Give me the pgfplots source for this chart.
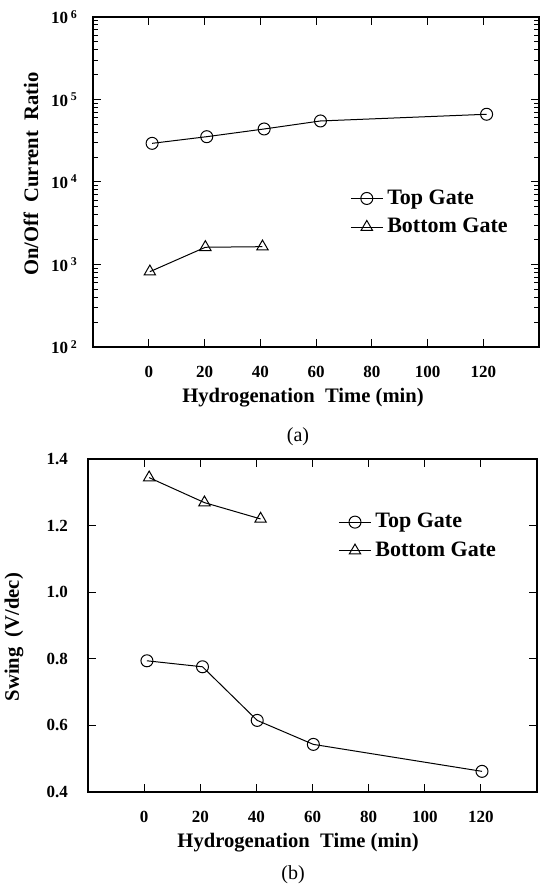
\documentclass[border=0pt]{standalone}
\usepackage{fontspec}
\setmainfont{Liberation Serif}
\usepackage{pgfplots}
\pgfplotsset{compat=1.18}
\pgfplotsset{
  legend image code/.code={\draw[mark repeat=2,mark phase=2,#1] plot coordinates {(0pt,0pt) (8pt,0pt) (16pt,0pt)};},
  common/.style={
    scale only axis,
    axis line style={line width=0.6pt, black},
    xmin=-20, xmax=140,
    xtick={0,20,40,60,80,100,120},
    tick align=inside,
    major tick length=4pt, minor tick length=2.5pt,
    tick style={line width=0.5pt, black},
    xtick pos=both, ytick pos=both,
    tick label style={font=\bfseries\fontsize{8.5}{10}\selectfont},
    xticklabel style={yshift=-6pt},
    label style={font=\bfseries\fontsize{10.3}{12}\selectfont},
    /pgf/number format/assume math mode=true,
    legend style={draw=none, fill=none, inner sep=0pt,
      font=\bfseries\fontsize{11}{13}\selectfont, row sep=1.5pt,
      cells={anchor=west}},
    legend cell align=left,
  },
  tg/.style={black, line width=0.5pt, mark=o, mark size=3pt, mark options={fill=white, line width=0.5pt}},
  bg/.style={black, line width=0.5pt, mark=triangle, mark size=3.3pt, mark options={fill=white, line width=0.5pt}},
}
\begin{document}
\begin{tikzpicture}
\useasboundingbox (0pt,0pt) rectangle (272pt,443.5pt);
% (a)
\begin{axis}[common,
  at={(46.5pt,270pt)}, anchor=south west,
  width=223pt, height=165pt,
  ymode=log, ymin=1e2, ymax=1e6,
  ytick={1e2,1e3,1e4,1e5,1e6},
  yticklabels={10\,\textsuperscript{2},10\,\textsuperscript{3},10\,\textsuperscript{4},10\,\textsuperscript{5},10\,\textsuperscript{6}},
  yticklabel style={xshift=-4pt},
  xlabel={Hydrogenation\ \ Time (min)},
  ylabel={On/Off\ \ Current\ \ Ratio},
  xlabel style={at={(axis description cs:0.471,-0.152)}, anchor=center},
  ylabel style={at={(axis description cs:-0.139,0.524)}, anchor=center},
  legend style={at={(axis description cs:0.576,0.49)}, anchor=north west},
]
\addplot[tg] coordinates {(1.2,29400) (20.8,35400) (41.4,43900) (61.6,54900) (121.2,66200)};
\addlegendentry{Top Gate}
\addplot[bg] coordinates {(0.4,818) (20.3,1617) (40.8,1644)};
\addlegendentry{Bottom Gate}
\end{axis}
% (b)
\begin{axis}[common,
  at={(44pt,47.5pt)}, anchor=south west,
  width=224.5pt, height=166.5pt,
  ymin=0.4, ymax=1.4,
  ytick={0.4,0.6,0.8,1.0,1.2,1.4},
  yticklabel style={xshift=-6.5pt, /pgf/number format/.cd, fixed, fixed zerofill, precision=1},
  xlabel={Hydrogenation\ \ Time (min)},
  ylabel={Swing\ \ (V/dec)},
  xlabel style={at={(axis description cs:0.468,-0.153)}, anchor=center},
  ylabel style={at={(axis description cs:-0.165,0.465)}, anchor=center},
  legend style={at={(axis description cs:0.557,0.85)}, anchor=north west},
]
\addplot[tg] coordinates {(1.0,0.794) (20.8,0.776) (40.3,0.615) (60.3,0.543) (120.4,0.462)};
\addlegendentry{Top Gate}
\addplot[bg] coordinates {(1.8,1.344) (21.5,1.269) (41.5,1.220)};
\addlegendentry{Bottom Gate}
\end{axis}
\node[font=\fontsize{10}{12}\selectfont] at (149pt,225pt) {(a)};
\node[font=\fontsize{10}{12}\selectfont] at (146.5pt,6pt) {(b)};
\end{tikzpicture}
\end{document}
